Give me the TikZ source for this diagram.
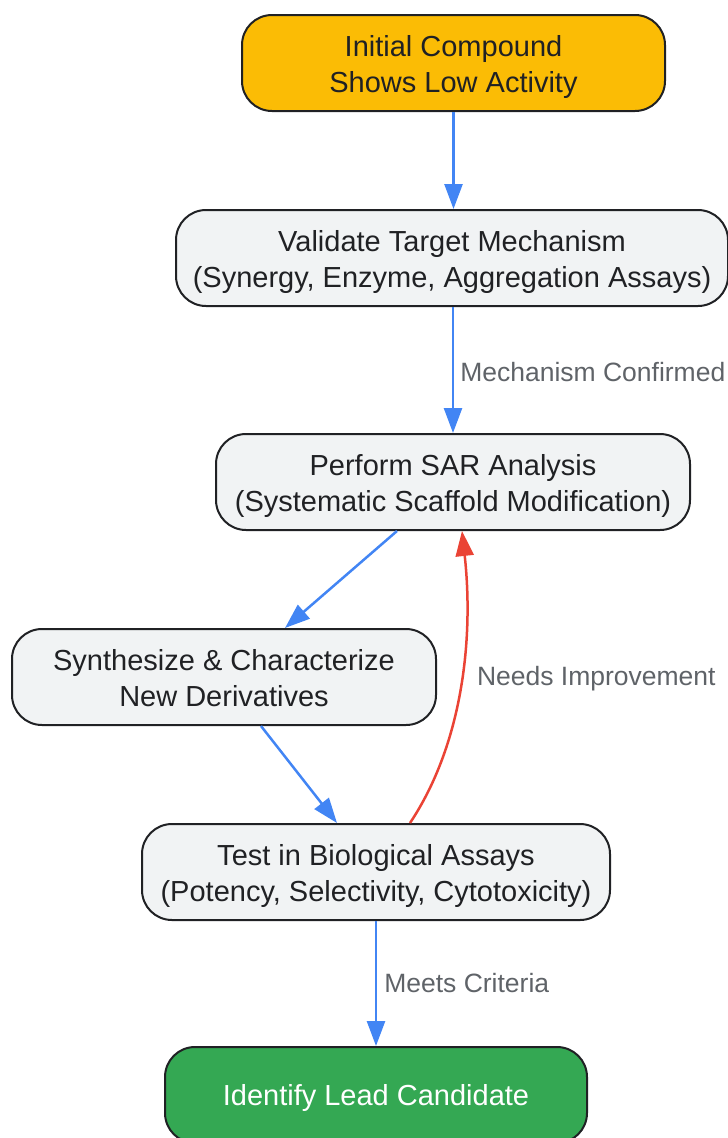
\documentclass[tikz,border=0pt]{standalone}
\usepackage{fontspec}
\setmainfont{Liberation Sans}
\usetikzlibrary{arrows.meta}

\definecolor{stepgray}{HTML}{F1F3F4}
\definecolor{startyellow}{HTML}{FBBC05}
\definecolor{leadgreen}{HTML}{34A853}
\definecolor{edgeblue}{HTML}{4285F4}
\definecolor{edgered}{HTML}{EA4335}
\definecolor{labelgray}{HTML}{5F6368}
\definecolor{inkdark}{HTML}{202124}

\begin{document}
\begin{tikzpicture}
[x=1pt, y=-1pt, line width=2pt,
stepbox/.style={rectangle, rounded corners=30pt, draw=inkdark, fill=stepgray, text=inkdark, align=center, inner sep=0pt, minimum height=96pt, font=\fontsize{29}{36}\selectfont,
  text height=64pt, text depth=6pt},
startbox/.style={stepbox, fill=startyellow},
leadbox/.style={stepbox, fill=leadgreen, text=white, text height=26pt},
flow/.style={draw=edgeblue, line width=2.5pt, -{Triangle[length=25pt,width=18pt]}},
back/.style={draw=edgered, line width=2.5pt, -{Triangle[length=25pt,width=18pt]}},
edgelabel/.style={text=labelgray, inner sep=0pt, anchor=west, font=\fontsize{26.5}{32}\selectfont}]

\useasboundingbox (0,0) rectangle (728,1138);

\node[startbox, minimum width=423pt] (initial) at (453.5,63) {Initial Compound\\Shows Low Activity};
\node[stepbox, minimum width=552pt] (validate) at (452,258) {Validate Target Mechanism\\(Synergy, Enzyme, Aggregation Assays)};
\node[stepbox, minimum width=474pt] (sar) at (453,482) {Perform SAR Analysis\\(Systematic Scaffold Modification)};
\node[stepbox, minimum width=424pt] (synth) at (224,677) {Synthesize \& Characterize\\New Derivatives};
\node[stepbox, minimum width=468pt] (test) at (376,872) {Test in Biological Assays\\(Potency, Selectivity, Cytotoxicity)};
\node[leadbox, minimum width=422pt] (lead) at (376,1095) {Identify Lead Candidate};

\draw[flow] (initial.south) -- (initial.south |- validate.north);
\draw[flow] (validate.south -| 453,0) -- (sar.north -| 453,0)
  node[edgelabel, pos=0.52, xshift=6pt] (confirmed) {Mechanism Confirmed};
\draw[flow] ([xshift=-56pt]sar.south) -- ([xshift=61pt]synth.north);
\draw[flow] ([xshift=37pt]synth.south) -- ([xshift=-39pt]test.north);
\draw[back] ([xshift=34pt]test.north) .. controls (462,745) and (474,640) .. ([xshift=9pt]sar.south);
\node[edgelabel] (improve) at (476,679) {Needs Improvement};
\draw[flow] (test.south) -- (lead.north)
  node[edgelabel, pos=0.5, xshift=7pt] (criteria) {Meets Criteria};
\end{tikzpicture}
\end{document}
